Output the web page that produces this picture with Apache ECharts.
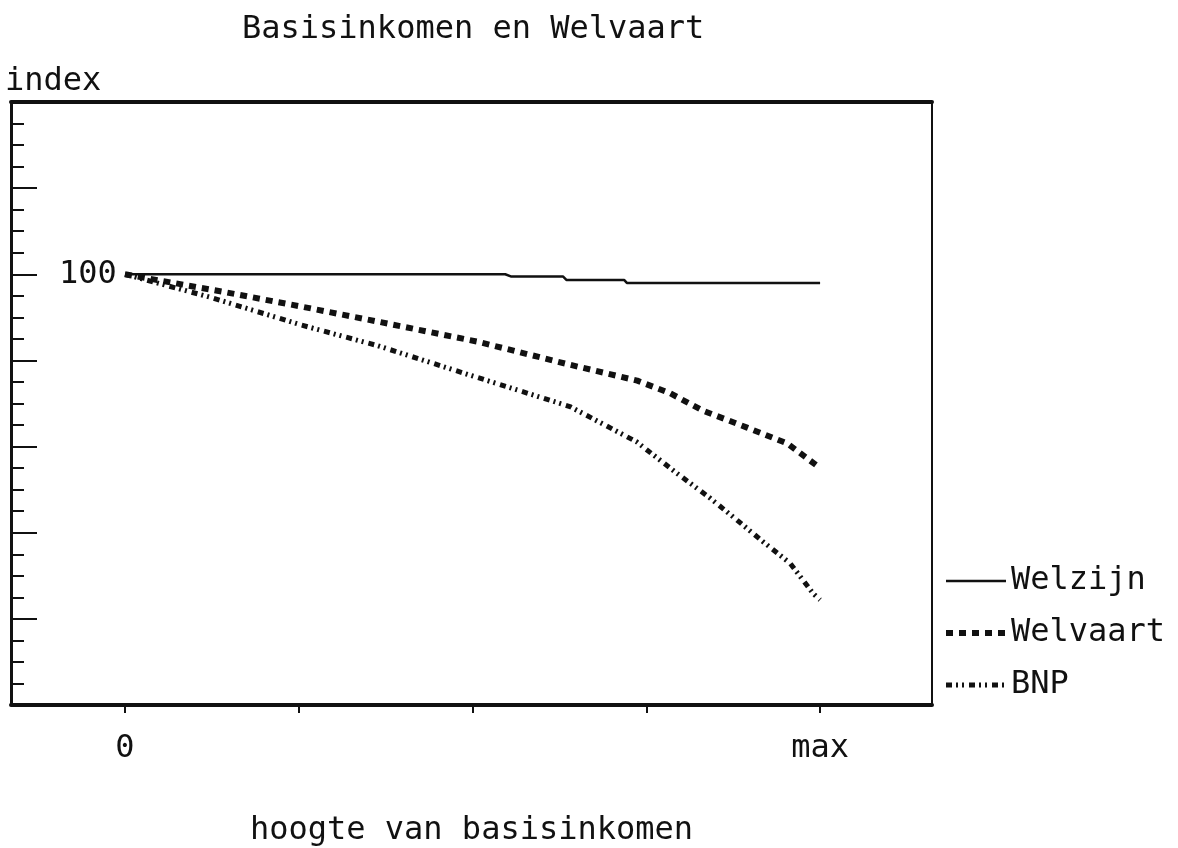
<!DOCTYPE html>
<html>
<head>
<meta charset="utf-8">
<script src="https://cdn.jsdelivr.net/npm/echarts@6/dist/echarts.min.js"></script>
<style>html,body{margin:0;padding:0;background:#fff;}#c{width:1178px;height:848px;}</style>
</head>
<body>
<div id="c"></div>
<script>
// x in percent of the maximum basic income (0 = none, 100 = max)
const welzijnX = [0, 54.7, 55.5, 63.0, 63.5, 71.8, 72.2, 100];
const welzijnY = [100, 100, 99.5, 99.5, 98.7, 98.7, 98.0, 98.0];

const welvaartX = [0, 13.9, 25.4, 36.4, 50.6, 64.0, 73.7, 78.4, 83.2, 89.5, 95.3, 100];
const welvaartY = [100, 96.0, 92.5, 89.0, 84.4, 79.0, 75.3, 72.4, 68.3, 64.4, 60.7, 55.0];

const bnpX = [0, 12.2, 25.4, 36.4, 49.6, 64.0, 73.6, 79.4, 84.2, 88.0, 91.8, 95.7, 99.0, 100];
const bnpY = [100, 94.7, 88.2, 83.4, 76.6, 69.3, 61.1, 53.8, 48.0, 43.0, 37.9, 32.9, 25.9, 24.4];

const seriesNames = ['Welzijn', 'Welvaart', 'BNP'];
const xTickValues = [0, 25, 50, 75, 100];
const xLabelValues = [0, 100];
const xLabelTexts = ['0', 'max'];
const yLabelValues = [100];

const titleText = 'Basisinkomen en Welvaart';
const xName = 'hoogte van basisinkomen';
const yName = 'index';

const FONT = '"DejaVu Sans Mono", monospace';
const INK = '#111';

function pairs(xs, ys) { return xs.map((x, i) => [x, ys[i]]); }

const chart = echarts.init(document.getElementById('c'), null, {renderer: 'canvas'});
chart.setOption({
  animation: false,
  backgroundColor: '#fff',
  textStyle: {fontFamily: FONT, color: INK},
  title: {
    text: titleText,
    left: 237, top: 9,
    textStyle: {fontFamily: FONT, fontSize: 32, fontWeight: 'normal', color: INK}
  },
  legend: {
    orient: 'vertical',
    left: 938, top: 558,
    itemWidth: 60, itemHeight: 10, itemGap: 16,
    itemStyle: {opacity: 0, borderWidth: 0},
    lineStyle: {width: 'inherit', type: 'inherit'},
    textStyle: {fontFamily: FONT, fontSize: 32, color: INK, lineHeight: 36},
    data: seriesNames
  },
  grid: {left: 11, right: 246, top: 102, bottom: 143, containLabel: false,
         outerBoundsMode: 'none',
         show: true, borderColor: INK, borderWidth: 2},
  xAxis: [{
    type: 'value', position: 'bottom',
    min: -16.4, max: 116.1,
    name: xName, nameLocation: 'middle', nameGap: 110,
    nameTextStyle: {fontFamily: FONT, fontSize: 32, color: INK},
    axisLine: {show: true, onZero: false, lineStyle: {color: INK, width: 4}},
    axisTick: {show: true, customValues: xTickValues, length: 8, inside: false, lineStyle: {color: INK, width: 2}},
    axisLabel: {show: true, customValues: xLabelValues, margin: 28,
      fontFamily: FONT, fontSize: 32, color: INK,
      formatter: v => xLabelTexts[xLabelValues.indexOf(v)] ?? ''},
    splitLine: {show: false}
  }, {
    type: 'value', position: 'top',
    min: -16.4, max: 116.1,
    axisLine: {show: true, onZero: false, lineStyle: {color: INK, width: 4}},
    axisTick: {show: false}, axisLabel: {show: false}, splitLine: {show: false}
  }],
  yAxis: [{
    type: 'value', position: 'left',
    min: 0, max: 140, interval: 20,
    name: yName, nameLocation: 'end', nameGap: 4,
    nameTextStyle: {fontFamily: FONT, fontSize: 32, color: INK, align: 'left', verticalAlign: 'bottom', padding: [0, 0, 0, -6]},
    axisLine: {show: true, onZero: false, lineStyle: {color: INK, width: 3}},
    axisTick: {show: true, inside: true, length: 26, lineStyle: {color: INK, width: 2}},
    minorTick: {show: true, splitNumber: 4, length: 13, lineStyle: {color: INK, width: 2}},
    axisLabel: {show: true, inside: true, margin: 48, customValues: yLabelValues,
      fontFamily: FONT, fontSize: 32, color: INK},
    splitLine: {show: false}, minorSplitLine: {show: false}
  }, {
    type: 'value', position: 'right',
    min: 0, max: 140,
    axisLine: {show: true, onZero: false, lineStyle: {color: INK, width: 2}},
    axisTick: {show: false}, axisLabel: {show: false}, splitLine: {show: false}
  }],
  series: [{
    name: seriesNames[0], type: 'line', symbol: 'none',
    data: pairs(welzijnX, welzijnY),
    lineStyle: {color: INK, width: 2.5, type: 'solid'},
    itemStyle: {color: INK}
  }, {
    name: seriesNames[1], type: 'line', symbol: 'none',
    data: pairs(welvaartX, welvaartY),
    lineStyle: {color: INK, width: 6, type: [7, 6], cap: 'butt'},
    itemStyle: {color: INK}
  }, {
    name: seriesNames[2], type: 'line', symbol: 'none',
    data: pairs(bnpX, bnpY),
    lineStyle: {color: INK, width: 5, type: [6, 4, 2, 4, 2, 5], cap: 'butt'},
    itemStyle: {color: INK}
  }]
});
</script>
</body>
</html>
